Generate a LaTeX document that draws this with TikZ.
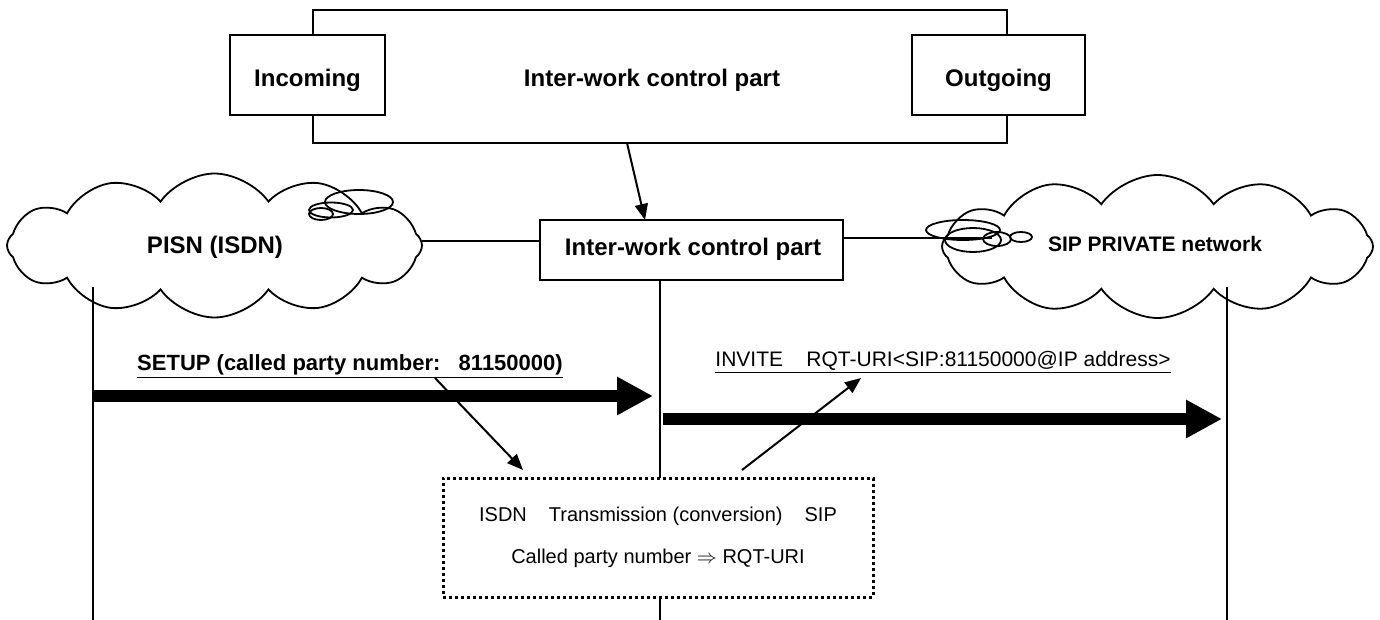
\documentclass[tikz,border=0pt]{standalone}
\usepackage{fontspec}
\setmainfont{Liberation Sans}
\usetikzlibrary{shapes.symbols,arrows.meta,calc}
\begin{document}
\begin{tikzpicture}[x=0.5pt,y=-0.5pt,
 box/.style={draw,line width=0.8pt,fill=white,inner sep=0pt},
 lbl/.style={inner sep=0pt,anchor=base,font=\bfseries\fontsize{12}{14}\selectfont},
 netcloud/.style={cloud,draw,line width=0.9pt,cloud puffs=12,cloud puff arc=110,cloud ignores aspect,inner sep=0pt},
 bubble/.style={line width=0.9pt},
 life/.style={line width=0.9pt},
 bigarrow/.style={line width=6pt,-{Triangle[length=18pt,width=18pt]}},
 thinarrow/.style={line width=1pt,-{Triangle[length=8pt,width=6.5pt]}},
 link/.style={line width=0.7pt},
 dotbox/.style={draw,fill=white,line width=1.5pt,dash pattern=on 1.5pt off 1.5pt,inner sep=0pt,align=center,font=\fontsize{10}{12}\selectfont},
 msg/.style={inner sep=0pt,anchor=base}
]
\useasboundingbox (0,0) rectangle (1380,620);

% lifelines
\coordinate (l1t) at (93,287);
\coordinate (l1b) at (93,620);
\coordinate (l2t) at (660,280);
\coordinate (l2b) at (660,620);
\coordinate (l3t) at (1227,287);
\coordinate (l3b) at (1227,620);
\draw[life] (l1t) -- (l1b);
\draw[life] (l2t) -- (l2b);
\draw[life] (l3t) -- (l3b);

% top boxes
\node[box,minimum width=347pt,minimum height=66.5pt] (big) at (660,76.5) {};
\node[box,minimum width=77.5pt,minimum height=40pt] (inc) at (307.5,75) {};
\node[box,minimum width=86.5pt,minimum height=40pt] (outg) at (998.5,75) {};
\node[lbl] (bigtxt) at (652,87) {Inter-work control part};
\node[lbl] (inctxt) at (inc.center |- bigtxt.base) {Incoming};
\node[lbl] (outgtxt) at (outg.center |- bigtxt.base) {Outgoing};

% middle box
\node[box,minimum width=151.5pt,minimum height=30pt] (mid) at (691.5,250) {};
\node[lbl] (midtxt) at (693,256) {Inter-work control part};
\coordinate (ba) at (627,143);
\coordinate (ma) at (645,220);
\draw[thinarrow] (ba) -- (ma);

% clouds
\node[netcloud,minimum width=207.5pt,minimum height=72pt] (pisn) at (214.5,245.5) {};
\node[lbl] (pisntxt) at (215,253) {PISN (ISDN)};
\node[netcloud,minimum width=215.5pt,minimum height=71.5pt] (sip) at (1157.5,246.5) {};
\node[lbl,font=\bfseries\fontsize{10.5}{12}\selectfont] (siptxt) at (1155,251) {SIP PRIVATE network};

% thought bubbles
\draw[bubble] (359,202) ellipse [x radius=34, y radius=12];
\draw[bubble] (331,210) ellipse [x radius=22, y radius=7.5];
\draw[bubble] (321,214) ellipse [x radius=12, y radius=6];
\draw[bubble] (963,230) ellipse [x radius=37, y radius=10];
\draw[bubble] (973,240) ellipse [x radius=28, y radius=12];
\draw[bubble] (997,239) ellipse [x radius=14, y radius=7];
\draw[bubble] (1021,237) ellipse [x radius=11, y radius=5];

% links
\coordinate (pisnout) at (422,241);
\coordinate (sipin) at (992,238);
\draw[link] (pisnout) -- (pisnout -| mid.west);
\draw[link] (sipin -| mid.east) -- (sipin);

% messages
\node[msg,font=\bfseries\fontsize{11}{13}\selectfont] (setup) at (350,370)
  {\underline{SETUP (called party number:\ \ \ 81150000)}};
\node[msg,font=\fontsize{10.5}{12}\selectfont] (invite) at (943,366)
  {\underline{INVITE\ \ \ \ RQT-URI<SIP:81150000@IP address>}};

\coordinate (a1s) at (93,396);
\coordinate (a1e) at (653,396);
\coordinate (a2s) at (663,419);
\coordinate (a2e) at (1222,419);
\draw[bigarrow] (a1s) -- (a1e);
\draw[bigarrow] (a2s) -- (a2e);

% conversion box
\node[dotbox,minimum width=215pt,minimum height=59.5pt] (conv) at (658,537.5)
  {ISDN\hspace{11pt}Transmission (conversion)\hspace{11pt}SIP\\[9pt]
   Called party number $\Rightarrow$ RQT-URI};

\coordinate (s1) at (435,378);
\coordinate (c1) at (523,470);
\coordinate (c2) at (742,470);
\coordinate (s2) at (861,378);
\draw[thinarrow] (s1) -- (c1);
\draw[thinarrow] (c2) -- (s2);
\end{tikzpicture}
\end{document}
